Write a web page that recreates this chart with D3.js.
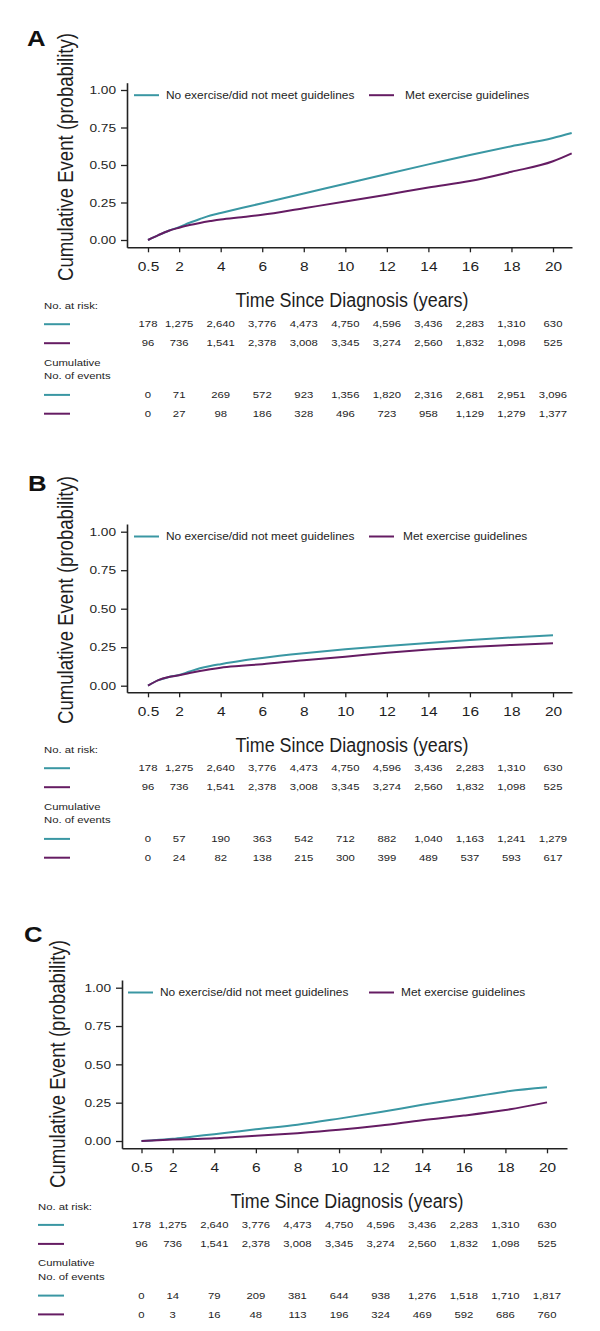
<!DOCTYPE html>
<html>
<head>
<meta charset="utf-8">
<script src="https://cdn.jsdelivr.net/npm/d3@7"></script>
<style>
  html, body { margin: 0; padding: 0; background: #fff; }
  svg { display: block; font-family: "Liberation Sans", Arial, sans-serif; }
</style>
</head>
<body>
<script>
// ---------------- DATA ----------------
const seriesNames = ["No exercise/did not meet guidelines", "Met exercise guidelines"];
const seriesColors = ["#3a97a3", "#651c63"];
const panelLetters = ["A", "B", "C"];

const yTicks = [0, 0.25, 0.5, 0.75, 1.0];
const xTicks = [0.5, 2, 4, 6, 8, 10, 12, 14, 16, 18, 20];
const xTickLabels = ["0.5", "2", "4", "6", "8", "10", "12", "14", "16", "18", "20"];

// Panel A curves
const aTime   = [0.5, 1, 1.5, 2, 2.5, 3, 3.5, 4, 5, 6, 8, 10, 12, 14, 16, 18, 20, 20.9];
const aNoEx   = [0, 0.033, 0.062, 0.086, 0.115, 0.14, 0.163, 0.18, 0.213, 0.245, 0.31, 0.375, 0.44, 0.504, 0.567, 0.625, 0.68, 0.713];
const aMet    = [0, 0.033, 0.062, 0.082, 0.1, 0.114, 0.126, 0.137, 0.152, 0.168, 0.212, 0.256, 0.302, 0.35, 0.393, 0.455, 0.525, 0.578];
// Panel B curves
const bTime   = [0.5, 1, 1.5, 2, 2.5, 3, 3.5, 4, 5, 6, 8, 10, 12, 14, 16, 18, 20];
const bNoEx   = [0, 0.036, 0.056, 0.07, 0.092, 0.113, 0.128, 0.14, 0.162, 0.18, 0.21, 0.236, 0.258, 0.278, 0.296, 0.313, 0.328];
const bMet    = [0, 0.036, 0.056, 0.068, 0.082, 0.095, 0.107, 0.117, 0.129, 0.14, 0.166, 0.188, 0.214, 0.235, 0.252, 0.265, 0.276];
// Panel C curves
const cTime   = [0.5, 1, 2, 3, 4, 5, 6, 8, 10, 12, 14, 16, 18, 20];
const cNoEx   = [0, 0.004, 0.014, 0.03, 0.044, 0.06, 0.076, 0.106, 0.146, 0.189, 0.236, 0.279, 0.322, 0.35];
const cMet    = [0, 0.003, 0.009, 0.013, 0.018, 0.026, 0.034, 0.051, 0.073, 0.101, 0.136, 0.166, 0.202, 0.252];

// Number at risk (same in all panels)
const atRiskNoEx = [178, 1275, 2640, 3776, 4473, 4750, 4596, 3436, 2283, 1310, 630];
const atRiskMet  = [96, 736, 1541, 2378, 3008, 3345, 3274, 2560, 1832, 1098, 525];
// Cumulative number of events
const aEventsNoEx = [0, 71, 269, 572, 923, 1356, 1820, 2316, 2681, 2951, 3096];
const aEventsMet  = [0, 27, 98, 186, 328, 496, 723, 958, 1129, 1279, 1377];
const bEventsNoEx = [0, 57, 190, 363, 542, 712, 882, 1040, 1163, 1241, 1279];
const bEventsMet  = [0, 24, 82, 138, 215, 300, 399, 489, 537, 593, 617];
const cEventsNoEx = [0, 14, 79, 209, 381, 644, 938, 1276, 1518, 1710, 1817];
const cEventsMet  = [0, 3, 16, 48, 113, 196, 324, 469, 592, 686, 760];

const yLabel = "Cumulative Event (probability)";
const xLabel = "Time Since Diagnosis (years)";
const riskLabel = "No. at risk:";
const eventsLabel = ["Cumulative", "No. of events"];

// ---------------- LAYOUT ----------------
const W = 600, H = 1331;
const SX = 1.19; // horizontal stretch of all lettering (the figure is widened)
const layouts = [
  { letter: [27, 46], axisX: 127, x05: 148, x20: 553, xEnd: 572, yTop: 82.7, yBot: 247.3, y0: 240, y1: 90,
    yLab: [65, 157], xLabX: 352, xLabY: 307, leg: [134, 166, 369, 405], tableX: 44, riskY: 306 },
  { letter: [28, 491], axisX: 127, x05: 148, x20: 553, xEnd: 572, yTop: 524, yBot: 692.3, y0: 685.7, y1: 531.7,
    yLab: [65, 600], xLabX: 352, xLabY: 752, leg: [134, 166, 369, 403], tableX: 44, riskY: 750 },
  { letter: [24, 942], axisX: 122, x05: 141.5, x20: 547, xEnd: 567, yTop: 980, yBot: 1148.3, y0: 1141, y1: 987.7,
    yLab: [57, 1064], xLabX: 347, xLabY: 1208, leg: [128, 160, 369, 401], tableX: 38, riskY: 1206.7 }
];

const panelsData = [
  { time: aTime, curves: [aNoEx, aMet], events: [aEventsNoEx, aEventsMet] },
  { time: bTime, curves: [bNoEx, bMet], events: [bEventsNoEx, bEventsMet] },
  { time: cTime, curves: [cNoEx, cMet], events: [cEventsNoEx, cEventsMet] }
];

const svg = d3.select("body").append("svg").attr("width", W).attr("height", H);
const fmt = d3.format(",");
const textCol = "#1e1e1e";

function stext(g, x, y, size) {
  return g.append("text").attr("transform", `translate(${x},${y}) scale(${SX},1)`)
    .attr("font-size", size).attr("fill", textCol);
}

panelsData.forEach((pd, pi) => {
  const L = layouts[pi];
  const g = svg.append("g");
  // x scale defined by tick positions 0.5 and 20; axis drawn to its plotted extent
  const x = d3.scaleLinear().domain([0.5, 20]).range([L.x05, L.x20]);
  const y = d3.scaleLinear().domain([0, 1]).range([L.y0, L.y1]);
  const xAxisScale = x.copy().domain([x.invert(L.axisX), x.invert(L.xEnd)]).range([L.axisX, L.xEnd]);
  const yAxisScale = y.copy().domain([y.invert(L.yBot), y.invert(L.yTop)]).range([L.yBot, L.yTop]);

  // panel letter
  stext(g, L.letter[0], L.letter[1], 23).attr("font-weight", "bold").attr("fill", "#111")
    .attr("transform", `translate(${L.letter[0]},${L.letter[1]}) scale(1.12,1)`)
    .text(panelLetters[pi]);

  // y axis
  const yAxis = g.append("g").attr("transform", `translate(${L.axisX},0)`)
    .call(d3.axisLeft(yAxisScale).tickValues(yTicks).tickFormat(d3.format(".2f")).tickSize(6).tickSizeOuter(0).tickPadding(5));
  yAxis.selectAll(".tick text").attr("font-size", 11.5)
    .attr("transform", `translate(-11,0) scale(${SX},1)`).attr("x", 0);
  // x axis
  const xAxis = g.append("g").attr("transform", `translate(0,${L.yBot})`)
    .call(d3.axisBottom(xAxisScale).tickValues(xTicks).tickFormat((d, i) => xTickLabels[i]).tickSize(5).tickSizeOuter(0).tickPadding(9));
  xAxis.selectAll(".tick text").attr("font-size", 13)
    .attr("transform", `scale(${SX},1)`);
  [yAxis, xAxis].forEach(ax => {
    ax.select(".domain").attr("stroke", "#222").attr("stroke-width", 1.6);
    ax.selectAll(".tick line").attr("stroke", "#222").attr("stroke-width", 1.3);
    ax.selectAll(".tick text").attr("fill", textCol)
      .attr("font-family", "'Liberation Sans', Arial, sans-serif");
  });

  // y label (rotated, glyphs widened horizontally)
  g.append("text")
    .attr("transform", `translate(${L.yLab[0]},${L.yLab[1]}) scale(${SX},1) rotate(-90)`)
    .attr("text-anchor", "middle").attr("dominant-baseline", "central")
    .attr("font-size", 19).attr("fill", textCol)
    .attr("textLength", 248).attr("lengthAdjust", "spacingAndGlyphs")
    .text(yLabel);

  // curves
  const line = d3.line().x(d => x(d[0])).y(d => y(d[1])).curve(d3.curveMonotoneX);
  pd.curves.forEach((vals, si) => {
    const pts = pd.time.map((t, i) => [t, vals[i]]);
    g.append("path").datum(pts).attr("d", line)
      .attr("fill", "none").attr("stroke", seriesColors[si]).attr("stroke-width", 2)
      .attr("stroke-linejoin", "round");
  });

  // legend
  const legY = L.yTop + 12.5;
  const legItems = [
    { lx: L.leg[0], tx: L.leg[1] },
    { lx: L.leg[2], tx: L.leg[3] }
  ];
  legItems.forEach((it, si) => {
    g.append("line").attr("x1", it.lx).attr("x2", it.lx + 25).attr("y1", legY).attr("y2", legY)
      .attr("stroke", seriesColors[si]).attr("stroke-width", 2);
    stext(g, it.tx, legY, 10).attr("dominant-baseline", "central").text(seriesNames[si]);
  });

  // x label
  g.append("text").attr("x", L.xLabX).attr("y", L.xLabY).attr("text-anchor", "middle")
    .attr("font-size", 19.5).attr("fill", textCol)
    .attr("textLength", 233).attr("lengthAdjust", "spacingAndGlyphs")
    .text(xLabel);

  // risk table
  const N = L.riskY;
  const tx = L.tableX;
  stext(g, tx, N, 9.5).attr("dominant-baseline", "central").text(riskLabel);
  stext(g, tx, N + 56.5, 9.5).attr("dominant-baseline", "central").text(eventsLabel[0]);
  stext(g, tx, N + 70.3, 9.5).attr("dominant-baseline", "central").text(eventsLabel[1]);

  const rows = [
    { dy: 18.2, vals: atRiskNoEx, si: 0 },
    { dy: 37.2, vals: atRiskMet, si: 1 },
    { dy: 88.9, vals: pd.events[0], si: 0 },
    { dy: 107.7, vals: pd.events[1], si: 1 }
  ];
  rows.forEach(r => {
    const ry = N + r.dy;
    g.append("line").attr("x1", tx).attr("x2", tx + 26).attr("y1", ry).attr("y2", ry)
      .attr("stroke", seriesColors[r.si]).attr("stroke-width", 2);
    g.selectAll(null).data(r.vals).enter().append("text")
      .attr("transform", (d, i) => `translate(${x(xTicks[i])},${ry}) scale(${SX},1)`)
      .attr("text-anchor", "middle").attr("dominant-baseline", "central")
      .attr("font-size", 9.5).attr("fill", textCol)
      .text(d => fmt(d));
  });
});
</script>
</body>
</html>
